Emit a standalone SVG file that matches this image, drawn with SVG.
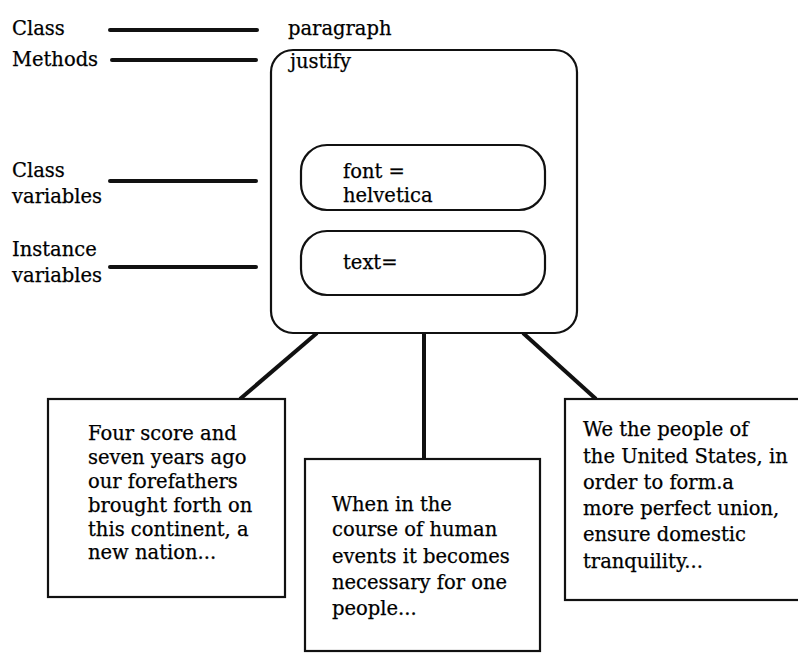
<svg xmlns="http://www.w3.org/2000/svg" width="798" height="656" viewBox="0 0 798 656">
  <style>
    text { font-family: "DejaVu Serif", "Liberation Serif", serif; font-size: 19.5px; fill: #000; stroke: #000; stroke-width: 0.25; }
    .lead { stroke: #111; stroke-width: 4; stroke-linecap: round; fill: none; }
    .frame { stroke: #111; stroke-width: 2.2; fill: #fff; }
    .link { stroke: #111; stroke-width: 4; fill: none; }
  </style>
  <rect width="798" height="656" fill="#fff"/>

  <!-- labels on the left with their leader lines -->
  <g id="labels">
    <text x="12" y="35">Class</text>
    <text x="12" y="66">Methods</text>
    <text x="12" y="177">Class</text>
    <text x="12" y="203">variables</text>
    <text x="12" y="256">Instance</text>
    <text x="12" y="282">variables</text>
    <line class="lead" x1="110" y1="30" x2="257" y2="30"/>
    <line class="lead" x1="112" y1="60" x2="256" y2="60"/>
    <line class="lead" x1="110" y1="181" x2="256" y2="181"/>
    <line class="lead" x1="110" y1="267" x2="256" y2="267"/>
  </g>

  <!-- connectors from the class to its instances -->
  <g id="connectors">
    <line class="link" x1="317" y1="333" x2="240" y2="399"/>
    <line class="link" x1="424" y1="333" x2="424" y2="459"/>
    <line class="link" x1="523" y1="333" x2="596" y2="399"/>
  </g>

  <!-- class object -->
  <g id="class-paragraph">
    <text x="288" y="35">paragraph</text>
    <rect class="frame" x="271" y="50" width="306" height="283" rx="22" ry="22"/>
    <text x="290" y="68">justify</text>
  </g>
  <g id="class-variable">
    <rect class="frame" x="301" y="145" width="244" height="65" rx="26" ry="26"/>
    <text x="343" y="178">font =</text>
    <text x="343" y="202">helvetica</text>
  </g>
  <g id="instance-variable">
    <rect class="frame" x="301" y="231" width="244" height="64" rx="26" ry="26"/>
    <text x="343" y="269">text=</text>
  </g>

  <!-- instances -->
  <g id="instance-gettysburg">
    <rect class="frame" x="48" y="399" width="237" height="198"/>
    <text x="88" y="440">Four score and</text>
    <text x="88" y="464">seven years ago</text>
    <text x="88" y="488">our forefathers</text>
    <text x="88" y="512">brought forth on</text>
    <text x="88" y="536">this continent, a</text>
    <text x="88" y="559">new nation...</text>
  </g>
  <g id="instance-declaration">
    <rect class="frame" x="305" y="459" width="235" height="192"/>
    <text x="332" y="511">When in the</text>
    <text x="332" y="536">course of human</text>
    <text x="332" y="563">events it becomes</text>
    <text x="332" y="589">necessary for one</text>
    <text x="332" y="615">people...</text>
  </g>
  <g id="instance-constitution">
    <rect class="frame" x="565" y="399" width="240" height="201"/>
    <text x="583" y="436">We the people of</text>
    <text x="583" y="463">the United States, in</text>
    <text x="583" y="489">order to form.a</text>
    <text x="583" y="515">more perfect union,</text>
    <text x="583" y="541">ensure domestic</text>
    <text x="583" y="568">tranquility...</text>
  </g>
</svg>
